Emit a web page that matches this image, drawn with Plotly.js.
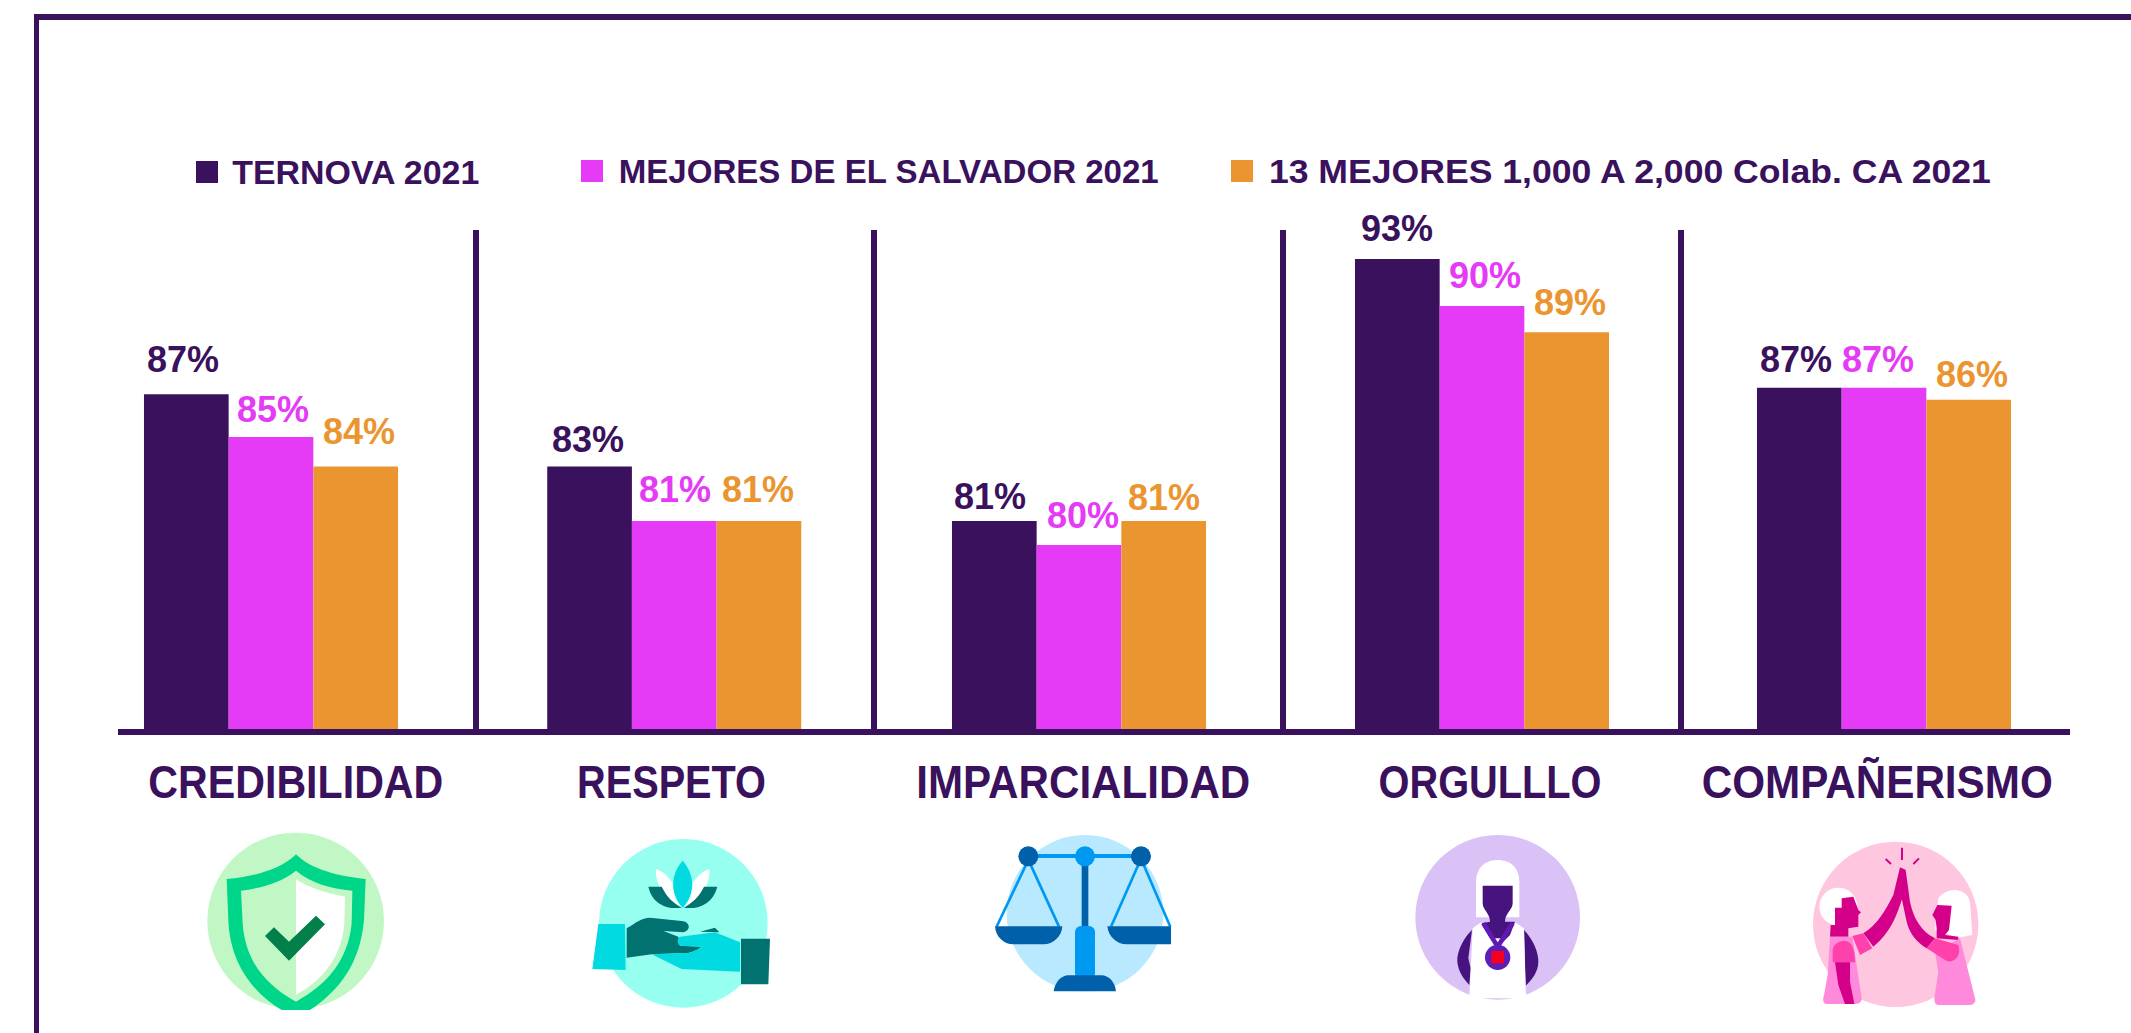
<!DOCTYPE html>
<html>
<head>
<meta charset="utf-8">
<script src="https://cdn.plot.ly/plotly-3.0.1.min.js"></script>
<style>html,body{margin:0;padding:0;background:#fff;overflow:hidden}</style>
</head>
<body>
<div id="chart" style="width:2131px;height:1033px"></div>
<script>
const categories = ["CREDIBILIDAD", "RESPETO", "IMPARCIALIDAD", "ORGULLLO", "COMPAÑERISMO"];
const seriesNames = ["TERNOVA 2021", "MEJORES DE EL SALVADOR 2021", "13 MEJORES 1,000 A 2,000 Colab. CA 2021"];
const ternova = [86.8, 83.5, 81.0, 93.0, 87.1];
const mejoresSalvador = [84.85, 81.0, 79.9, 90.85, 87.1];
const mejoresCA = [83.5, 81.0, 81.0, 89.65, 86.55];
const ternovaLabels = ["87%", "83%", "81%", "93%", "87%"];
const mejoresSalvadorLabels = ["85%", "81%", "80%", "90%", "87%"];
const mejoresCALabels = ["84%", "81%", "81%", "89%", "86%"];

const DARK = "#3A115C", MAGENTA = "#E53BF7", ORANGE = "#EB9530";
const colors = [DARK, MAGENTA, ORANGE];
const W = 2131, H = 1033, L = 118, R = 2070, T = 230, B = 729;
const px = x => (x - L) / (R - L);
const py = y => (B - y) / (B - T);
const FONT = "Liberation Sans";

function svg(size, body) {
  return "data:image/svg+xml;utf8," + encodeURIComponent(
    '<svg xmlns="http://www.w3.org/2000/svg" width="' + size + '" height="' + size + '" viewBox="0 0 ' + size + ' ' + size + '">' + body + '</svg>');
}
const iconShield = svg(630,
  '<circle cx="317" cy="303" r="265" fill="#C1F7C5"/>' +
  '<path d="M318,103C270,150 190,170 110,177L115,300C120,430 190,520 275,570L360,570C450,510 510,430 522,300L527,177C450,170 365,150 318,103Z" fill="#00D68A"/>' +
  '<path d="M318,152C270,190 210,205 153,212L158,310C165,420 225,495 318,545C410,495 475,420 485,310L487,212C420,205 365,190 318,152Z" fill="#C1F7C5"/>' +
  '<path d="M318,178C360,205 410,220 465,230L463,310C455,410 400,480 318,525Z" fill="#fff"/>' +
  '<path d="M225,348L252,322L297,365L378,287L405,313L297,422Z" fill="#038049"/>' +
  '<rect x="0" y="570" width="630" height="60" fill="#fff"/>');
const iconHands = svg(600,
  '<circle cx="310" cy="295" r="253" fill="#96FFF0"/>' +
  '<path d="M228,132C270,145 295,200 305,245C255,225 225,180 228,132Z" fill="#fff"/>' +
  '<path d="M388,132C346,145 320,200 312,245C360,225 392,180 388,132Z" fill="#fff"/>' +
  '<path d="M205,185L245,185C260,215 280,235 305,248C260,255 215,235 205,185Z" fill="#017270"/>' +
  '<path d="M412,185L372,185C358,215 335,235 312,248C355,255 400,235 412,185Z" fill="#017270"/>' +
  '<path d="M308,107C270,150 270,210 308,248C346,210 346,150 308,107Z" fill="#00DAE0"/>' +
  '<path d="M55,297L135,297L137,435L37,432Z" fill="#00DAE0"/>' +
  '<path d="M360,320L405,308L418,322Z" fill="#017270"/>' +
  '<path d="M140,310C165,295 185,278 210,278L305,288C330,290 335,315 310,322L250,318L295,335L300,362L365,365C345,380 320,388 300,385L215,388L140,398Z" fill="#017270"/>' +
  '<path d="M300,335L405,322L480,352L480,440L305,432L215,388L300,385C320,388 345,380 365,365L300,362C290,355 292,340 300,335Z" fill="#00DAE0"/>' +
  '<path d="M483,341L570,341L565,478L483,478Z" fill="#017270"/>');
const iconScale = svg(600,
  '<circle cx="300" cy="250" r="235" fill="#B9E9FF"/>' +
  '<rect x="0" y="484" width="600" height="116" fill="#fff"/>' +
  '<rect x="130" y="72" width="340" height="12" fill="#0099F2"/>' +
  '<rect x="290" y="100" width="20" height="190" fill="#0060AA"/>' +
  '<g stroke="#0099F2" stroke-width="8"><line x1="125" y1="100" x2="35" y2="290"/><line x1="135" y1="100" x2="222" y2="290"/><line x1="462" y1="100" x2="378" y2="290"/><line x1="474" y1="100" x2="556" y2="290"/></g>' +
  '<circle cx="130" cy="79" r="30" fill="#0060AA"/><circle cx="300" cy="79" r="30" fill="#0099F2"/><circle cx="468" cy="79" r="30" fill="#0060AA"/>' +
  '<rect x="270" y="288" width="60" height="160" rx="18" fill="#0099F2"/>' +
  '<path d="M206,484C210,455 230,436 250,436L350,436C370,436 390,455 393,484Z" fill="#0060AA"/>' +
  '<path d="M30,289L232,289C230,320 205,343 175,343L85,343C55,343 32,320 30,289Z" fill="#0060AA"/>' +
  '<path d="M367,289L558,289L558,343L425,343C395,343 370,320 367,289Z" fill="#0060AA"/>');
const iconMedal = svg(570,
  '<circle cx="293" cy="277" r="247" fill="#DAC2F7"/>' +
  '<path d="M228,277L228,170C228,130 255,105 293,105C332,105 358,130 358,170L358,277Z" fill="#fff"/>' +
  '<path d="M216,315C190,340 170,380 172,410C175,440 190,460 208,480L212,430L205,400Z" fill="#47147F"/>' +
  '<path d="M372,315C400,345 415,380 415,410C415,440 395,465 377,482L375,430Z" fill="#47147F"/>' +
  '<path d="M218,310L243,292L293,360L345,292L372,310L378,520L208,520Z" fill="#fff"/>' +
  '<path d="M248,182L338,182L338,235C338,255 315,265 315,290L345,290L330,330L300,360L270,340L245,295L270,290C270,265 248,255 248,235Z" fill="#47147F"/>' +
  '<path d="M280,340L305,340L293,358Z" fill="#fff"/>' +
  '<polyline points="250,295 293,365 338,295" fill="none" stroke="#6119B5" stroke-width="14"/>' +
  '<circle cx="293" cy="397" r="38" fill="#5D1EB8"/><rect x="274" y="378" width="38" height="37" fill="#F5001E"/>');
const iconFive = svg(570,
  '<circle cx="302" cy="268" r="248" fill="#FFC6DF"/>' +
  '<circle cx="130" cy="215" r="57" fill="#fff"/>' +
  '<path d="M430,190C450,160 510,150 525,200L532,300L490,308L420,285Z" fill="#fff"/>' +
  '<g stroke="#D40089" stroke-width="6"><line x1="321" y1="38" x2="321" y2="75"/><line x1="272" y1="72" x2="288" y2="87"/><line x1="372" y1="70" x2="355" y2="87"/></g>' +
  '<path d="M120,218L140,218L140,190L175,185L190,225L198,232L190,240L190,275L160,280L160,305L105,305L107,270L120,270Z" fill="#D40089"/>' +
  '<path d="M427,210L470,212L462,285L450,300L490,305L490,315L425,310L425,280L422,255L412,240Z" fill="#D40089"/>' +
  '<path d="M315,97L330,105L322,190C305,240 290,290 235,335L205,295C245,270 270,230 295,180Z" fill="#D40089"/>' +
  '<path d="M322,100L332,105L345,200C355,250 380,290 420,310L395,340C365,320 345,300 335,260L320,190Z" fill="#D40089"/>' +
  '<path d="M105,305L172,305L200,490C200,500 195,507 180,507L95,507C85,507 82,495 87,480L98,420Z" fill="#FF8ADC"/>' +
  '<path d="M172,303L205,295L232,340L195,360Z" fill="#FF41AC"/>' +
  '<path d="M113,382L113,345C115,325 135,317 150,317C170,320 180,340 180,382Z" fill="#FF41AC"/>' +
  '<path d="M120,382L165,382L165,440L178,507L150,507L130,450Z" fill="#D40089"/>' +
  '<path d="M420,350L495,310L540,490C545,500 535,510 525,510L430,510C420,510 418,500 418,490L430,410Z" fill="#FF8ADC"/>' +
  '<path d="M420,310L490,330C500,360 480,385 455,378L395,340Z" fill="#FF41AC"/>');

/* layout: crop boxes of the five icons (left, top, size in page pixels) */
const iconPlacement = [[iconShield,190,820,210],[iconHands,580,825,200],[iconScale,985,830,200],[iconMedal,1400,825,190],[iconFive,1795,835,190]];
const images = iconPlacement.map(([source,x,y,s]) => ({source, xref:"paper", yref:"paper", x:px(x), y:py(y), sizex:s/(R-L), sizey:s/(B-T), xanchor:"left", yanchor:"top", sizing:"stretch", layer:"above"}));

const rect = (x0,y0,x1,y1,c) => ({type:"rect", xref:"paper", yref:"paper", x0:px(x0), x1:px(x1), y0:py(y1), y1:py(y0), fillcolor:c, line:{width:0}, layer:"below"});
const shapes = [
  rect(34,14,W,20,DARK), rect(34,14,39,H,DARK),
  rect(473,T,479,B,DARK), rect(871,T,877,B,DARK), rect(1280,T,1286,B,DARK), rect(1678,T,1684,B,DARK),
  rect(196,161,218,183,DARK), rect(581,160,603,182,MAGENTA), rect(1231,160,1253,182,ORANGE)
];

const annotations = [];
const widths = {};
/* category captions: centre, width in page pixels */
const catBoxes = [[296,295],[671,189],[1083,334],[1490,223],[1877,351]];
categories.forEach((c,i) => {
  annotations.push({text:c, xref:"paper", yref:"paper", x:px(catBoxes[i][0]), y:py(782), xanchor:"center", yanchor:"middle", showarrow:false, font:{family:FONT, size:46, color:DARK, weight:700}});
  widths[c] = catBoxes[i][1];
});
/* legend captions: centre x, centre y, width */
const legBoxes = [[356,172,247],[889,171,540],[1630,171,722]];
seriesNames.forEach((n,i) => {
  annotations.push({text:n, xref:"paper", yref:"paper", x:px(legBoxes[i][0]), y:py(legBoxes[i][1]), xanchor:"center", yanchor:"middle", showarrow:false, font:{family:FONT, size:34, color:DARK, weight:700}});
  widths[n] = legBoxes[i][2];
});
/* value labels: dx from bar centre, gap above bar top (pixels) */
const nudges = [
  [[-3,21],[2,14],[3.5,21]],
  [[-1.5,13],[0.5,18],[-0.5,18]],
  [[-4.5,11],[4,16],[0.5,10]],
  [[0,17],[3,17],[3.5,16]],
  [[-3,15],[-6,15],[3,12]]
];
const barWidth = 84.68;
const step = 403.25, c0 = 271;
const groupShift = [0, 0, 1.5, 1.25, 0];
const seriesValues = [ternova, mejoresSalvador, mejoresCA];
const seriesLabels = [ternovaLabels, mejoresSalvadorLabels, mejoresCALabels];
const DESC = 9;
seriesValues.forEach((vals,s) => vals.forEach((v,i) => {
  annotations.push({text:seriesLabels[s][i], xref:"x", yref:"y", x:i, y:v, xanchor:"center", yanchor:"bottom",
    xshift:(s-1)*barWidth + groupShift[i] + nudges[i][s][0], yshift:nudges[i][s][1]-DESC, showarrow:false,
    font:{family:FONT, size:36, color:colors[s], weight:700}});
}));

const traces = seriesNames.map((n,s) => ({type:"bar", name:n, x:categories, y:seriesValues[s], marker:{color:colors[s], line:{width:0}}, hoverinfo:"skip",
  width:barWidth/step, offset:groupShift.map(g => (s-1.5)*barWidth/step + g/step)}));
const layout = {
  width:W, height:H, autosize:false, showlegend:false, barmode:"group", bargap:0.37, bargroupgap:0,
  paper_bgcolor:"#fff", plot_bgcolor:"rgba(0,0,0,0)",
  margin:{l:L, r:W-R, t:T, b:H-B, pad:0},
  xaxis:{type:"category", range:[(L-c0)/step,(R-c0)/step], showticklabels:false, ticks:"", showgrid:false, zeroline:false, showline:true, linecolor:DARK, linewidth:6, fixedrange:true},
  yaxis:{range:[71.47,94.33], visible:false, showgrid:false, zeroline:false, fixedrange:true},
  shapes, annotations, images
};
Plotly.newPlot("chart", traces, layout, {displayModeBar:false, staticPlot:true}).then(gd => {
  gd.querySelectorAll(".annotation-text").forEach(t => {
    const w = widths[t.textContent];
    if (w) { t.setAttribute("textLength", w); t.setAttribute("lengthAdjust", "spacingAndGlyphs"); }
  });
});
</script>
</body>
</html>
